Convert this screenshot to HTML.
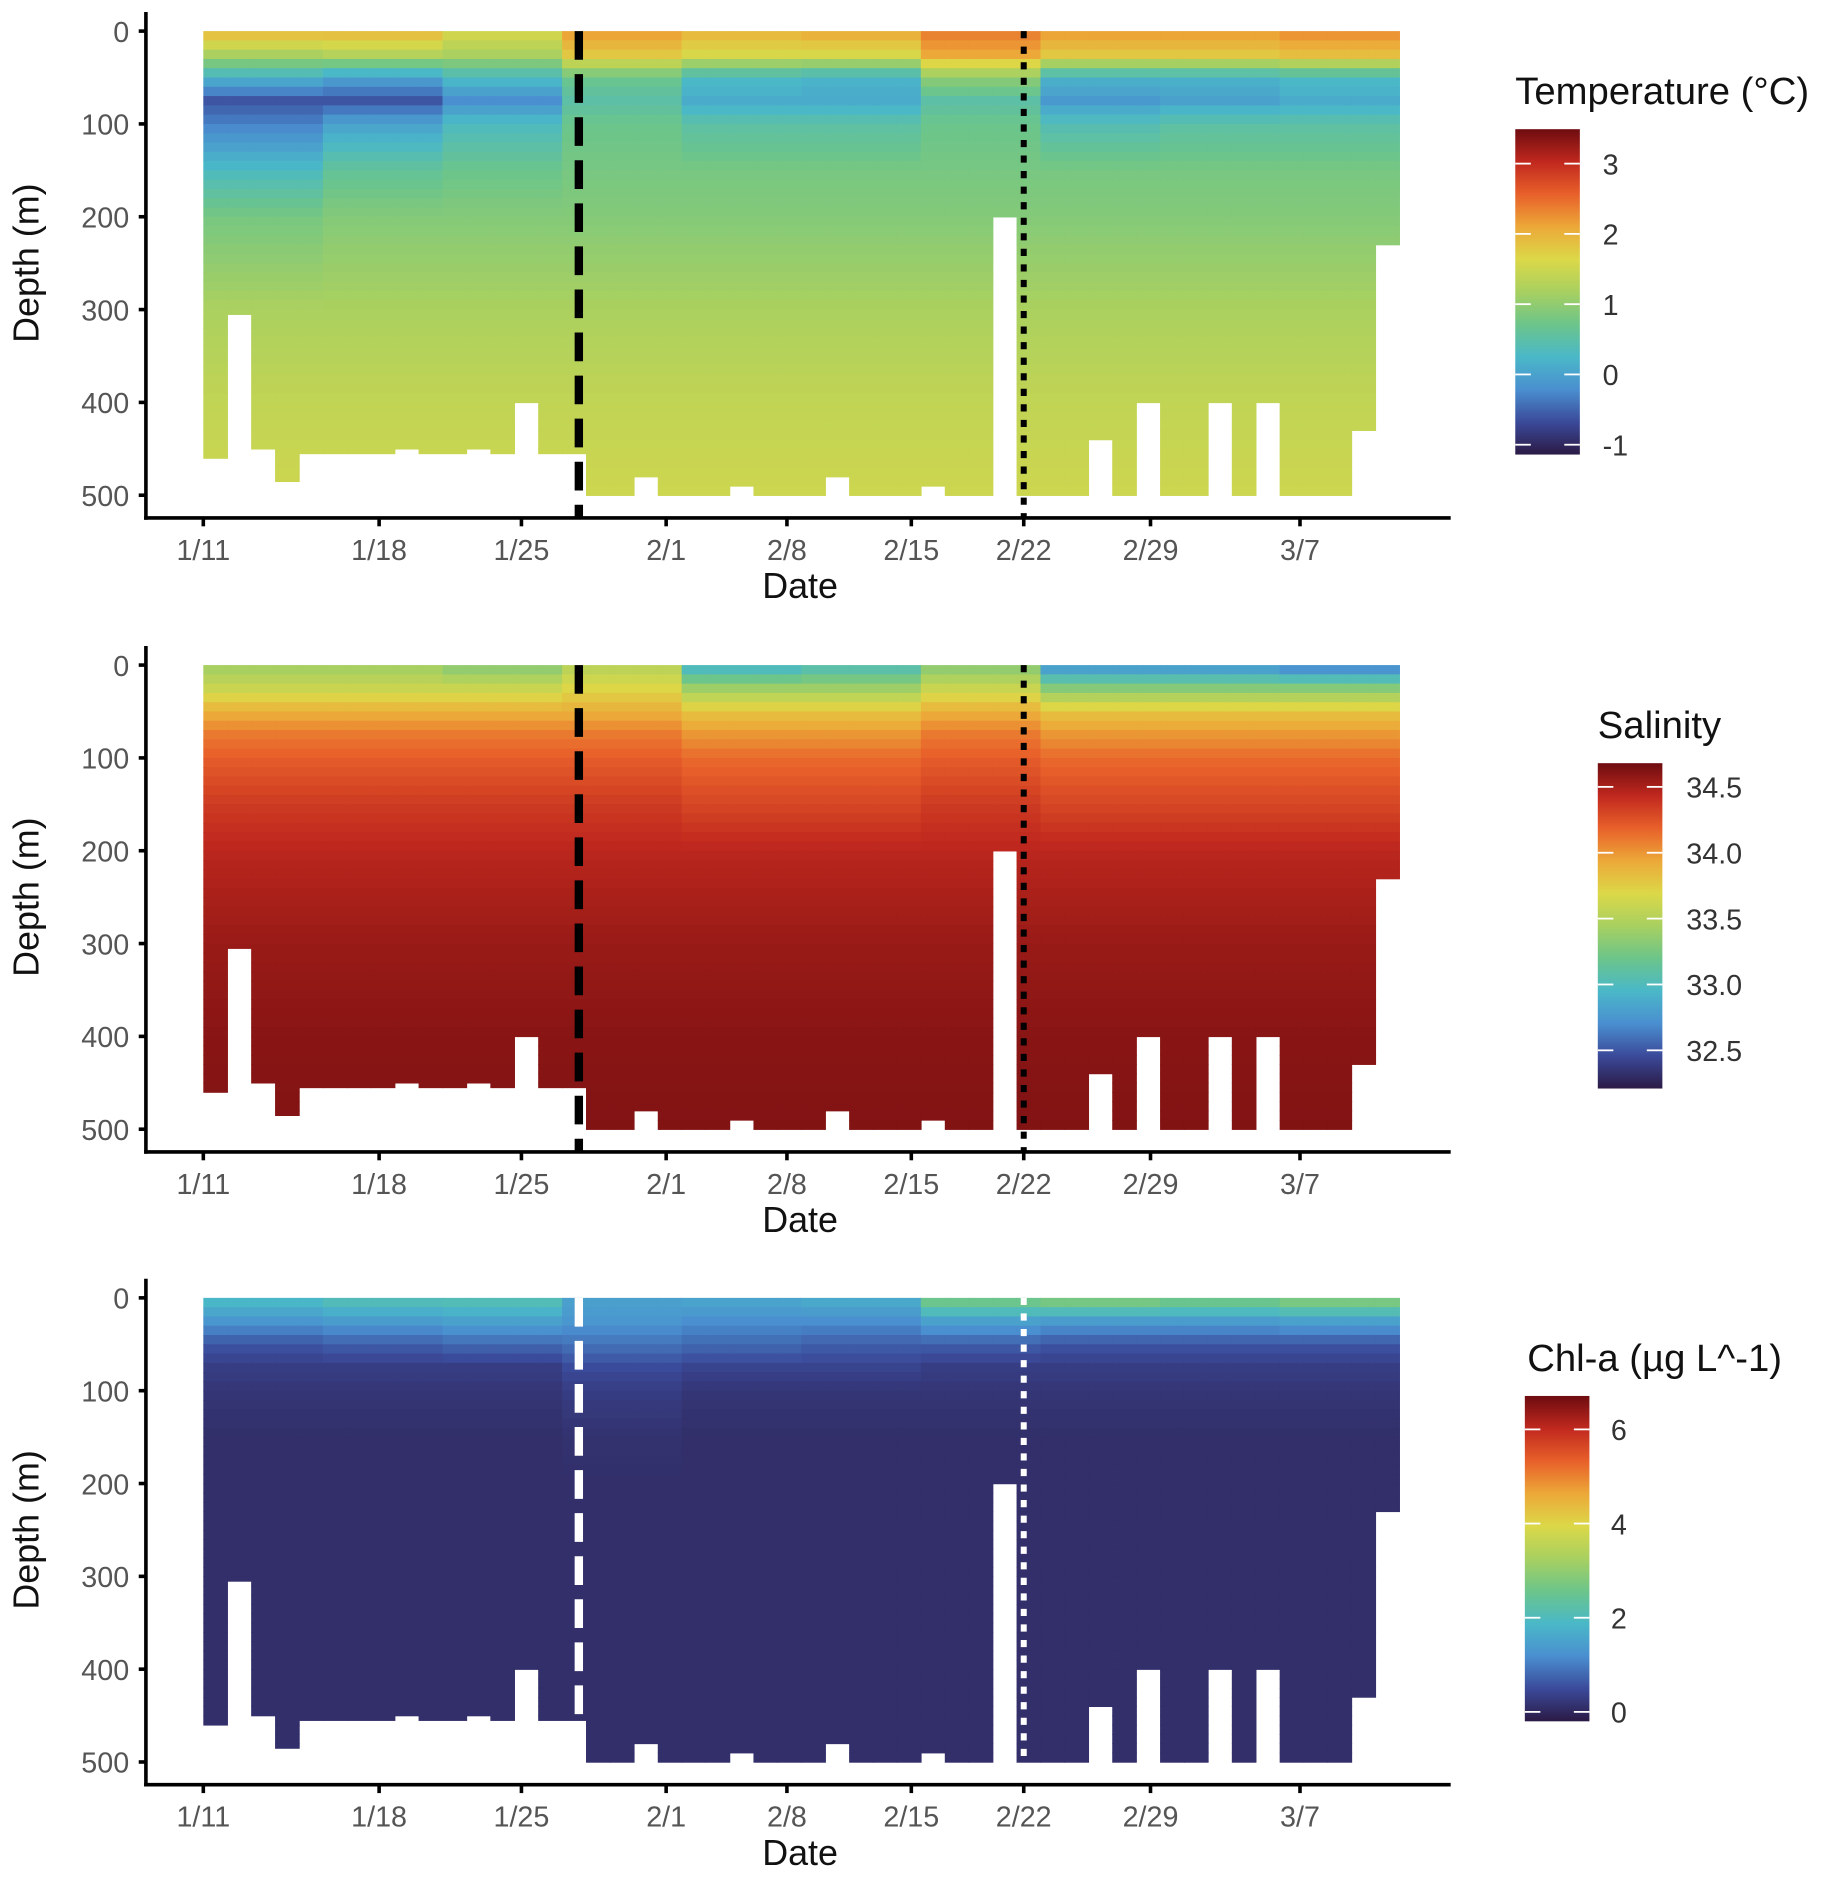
<!DOCTYPE html>
<html><head><meta charset="utf-8"><style>
html,body{margin:0;padding:0;background:#fff;}
svg{display:block;font-family:"Liberation Sans",sans-serif;}
.tk{fill:#555;font-size:24px;}
.tt{fill:#111;font-size:30px;}
.lt{fill:#111;font-size:32px;}
</style></head><body>
<svg id="chart" width="1831" height="1884" viewBox="0 0 1531 1575" preserveAspectRatio="none" xmlns="http://www.w3.org/2000/svg"></svg>
<script>
// ---- data ----
const depthTicks = [0,100,200,300,400,500];
const dateLabels = ["1/11","1/18","1/25","2/1","2/8","2/15","2/22","2/29","3/7"];
const dateTickPos = [0,7.35,13.3,19.35,24.4,29.6,34.3,39.6,45.85]; // profile-index units
const depthLevels = [0,25,50,75,100,150,200,300,400,500];
const bottomDepths = [460,305,450,485,455,455,455,455,450,455,455,450,455,400,455,455,500,500,480,500,500,500,490,500,500,500,480,500,500,500,490,500,500,200,500,500,500,440,500,400,500,500,400,500,400,500,500,500,430,230];
const tempSeg = [
[2.0,1.2,0.2,-0.6,-0.3,0.3,0.8,1.2,1.4,1.5],
[2.0,1.3,0.0,-0.6,0.0,0.6,0.9,1.2,1.4,1.5],
[1.6,1.2,0.3,-0.2,0.3,0.7,0.9,1.2,1.4,1.5],
[2.2,1.8,0.7,0.5,0.7,0.8,0.9,1.2,1.4,1.5],
[2.0,1.6,0.3,0.1,0.5,0.8,0.9,1.2,1.4,1.5],
[2.1,1.6,0.2,0.1,0.5,0.8,0.9,1.2,1.4,1.5],
[2.4,2.1,1.0,0.5,0.7,0.8,0.9,1.2,1.4,1.5],
[2.2,1.8,0.2,-0.1,0.4,0.8,0.9,1.2,1.4,1.5],
[2.2,1.8,0.2,0.0,0.5,0.8,0.9,1.2,1.4,1.5],
[2.3,1.9,0.3,0.1,0.5,0.8,0.9,1.2,1.4,1.5]];
const salSeg = [
[33.4,33.6,33.9,34.1,34.2,34.35,34.45,34.55,34.6,34.62],
[33.4,33.6,33.9,34.1,34.2,34.35,34.45,34.55,34.6,34.62],
[33.3,33.6,33.9,34.1,34.2,34.35,34.45,34.55,34.6,34.62],
[33.5,33.7,33.9,34.1,34.2,34.35,34.45,34.55,34.6,34.62],
[32.9,33.4,33.8,34.0,34.15,34.3,34.45,34.55,34.6,34.62],
[33.0,33.4,33.8,34.0,34.15,34.3,34.45,34.55,34.6,34.62],
[33.3,33.6,33.9,34.1,34.2,34.35,34.45,34.55,34.6,34.62],
[32.7,33.3,33.8,34.0,34.15,34.3,34.45,34.55,34.6,34.62],
[32.7,33.3,33.8,34.0,34.15,34.3,34.45,34.55,34.6,34.62],
[32.6,33.3,33.8,34.0,34.15,34.3,34.45,34.55,34.6,34.62]];
const chlSeg = [
[2.0,1.3,0.6,0.3,0.2,0.1,0.1,0.1,0.1,0.1],
[2.2,1.4,0.7,0.3,0.2,0.1,0.1,0.1,0.1,0.1],
[2.2,1.5,0.8,0.3,0.2,0.1,0.1,0.1,0.1,0.1],
[1.5,1.3,0.9,0.5,0.3,0.15,0.1,0.1,0.1,0.1],
[1.6,1.2,0.8,0.4,0.2,0.1,0.1,0.1,0.1,0.1],
[1.7,1.2,0.7,0.4,0.2,0.1,0.1,0.1,0.1,0.1],
[2.8,1.5,0.7,0.3,0.2,0.1,0.1,0.1,0.1,0.1],
[3.0,1.4,0.6,0.3,0.2,0.1,0.1,0.1,0.1,0.1],
[2.8,1.4,0.6,0.3,0.2,0.1,0.1,0.1,0.1,0.1],
[3.0,1.5,0.6,0.3,0.2,0.1,0.1,0.1,0.1,0.1]];
const eventDash = 15.7, eventDot = 34.3;
// ---- layout ----
const cmap = ["#2b1a45","#3b4a9a","#4a8fd0","#4ab8c8","#6cc58a","#a8d060","#dcd848","#eca838","#e8602a","#c0281e","#6e0c10"];
const panels = [
 {off:0, seg:tempSeg, min:-1.14, max:3.49, title:"Temperature (°C)", tx:1267, bx:1267, ticks:[3,2,1,0,-1], fmt:v=>String(v), lx:1340, line:"#000", name:"temperature"},
 {off:530, seg:salSeg, min:32.21, max:34.68, title:"Salinity", tx:1336, bx:1336, ticks:[34.5,34.0,33.5,33.0,32.5], fmt:v=>v.toFixed(1), lx:1410, line:"#000", name:"salinity"},
 {off:1059, seg:chlSeg, min:-0.2, max:6.71, title:"Chl-a (µg L^-1)", tx:1277, bx:1275, ticks:[6,4,2,0], fmt:v=>String(v), lx:1347, line:"#fff", name:"chlorophyll"}
];
const svg = document.getElementById('chart');
const NS = "http://www.w3.org/2000/svg";
function mk(tag, attrs, parent){const e=document.createElementNS(NS,tag);for(const k in attrs)e.setAttribute(k,attrs[k]);(parent||svg).appendChild(e);return e;}
const x0=170, colW=20;
const xScale = i => x0 + i*colW;
const yScale = (d,off) => 26 + off + d*(414-26)/500;
function hex(c){return [1,3,5].map(i=>parseInt(c.substr(i,2),16));}
function colorAt(t){t=Math.max(0,Math.min(1,t));const p=t*(cmap.length-1);const i=Math.min(Math.floor(p),cmap.length-2);const f=p-i;const a=hex(cmap[i]),b=hex(cmap[i+1]);return "rgb("+a.map((v,k)=>Math.round(v+(b[k]-v)*f)).join(",")+")";}
function valAt(seg,i,d){const s=seg[Math.min(seg.length-1,Math.floor(i/5))];let k=0;while(k<depthLevels.length-2&&d>depthLevels[k+1])k++;const f=(d-depthLevels[k])/(depthLevels[k+1]-depthLevels[k]);return s[k]+(s[k+1]-s[k])*Math.max(0,Math.min(1,f));}
panels.forEach((P,pi)=>{
 const g=mk('g',{});
 
 
 const hm=mk('g',{},g);
 
 
 for(let i=0;i<bottomDepths.length;i++){
  for(let d=0; d<bottomDepths[i]; d+=10){
   const dd=Math.min(10,bottomDepths[i]-d);
   const v=valAt(P.seg,i,d+5);
   const r=mk('rect',{x:xScale(i),y:yScale(d,P.off),width:colW+0.6,height:(yScale(d+dd,P.off)-yScale(d,P.off))+0.6,fill:colorAt((v-P.min)/(P.max-P.min))},hm);
   
   
  }
 }
 const yTop=yScale(0,P.off), yBot=yScale(500,P.off)+18;
 const dl=mk('line',{x1:xScale(eventDash),x2:xScale(eventDash),y1:yTop,y2:yBot,stroke:P.line,'stroke-width':7,'stroke-dasharray':'24,12'},g);
 
 
 const dt=mk('line',{x1:xScale(eventDot),x2:xScale(eventDot),y1:yTop,y2:yBot,stroke:P.line,'stroke-width':5,'stroke-dasharray':'6,7'},g);
 
 
 const axY=433+P.off;
 const ya=mk('line',{x1:122,x2:122,y1:10+P.off,y2:axY+1.5,stroke:'#000','stroke-width':3},g);
 
 
 const xa=mk('line',{x1:120.5,x2:1213,y1:axY,y2:axY,stroke:'#000','stroke-width':3},g);
 
 
 depthTicks.forEach(t=>{
  const y=yScale(t,P.off);
  mk('line',{x1:116,x2:122,y1:y,y2:y,stroke:'#000','stroke-width':3},g);
  const tx=mk('text',{x:108,y:y+9,'text-anchor':'end',class:'tk'},g);
  tx.textContent=t;
  
  
 });
 dateTickPos.forEach((p,k)=>{
  const x=xScale(p);
  mk('line',{x1:x,x2:x,y1:axY,y2:axY+7,stroke:'#000','stroke-width':3},g);
  const tx=mk('text',{x:x,y:axY+35,'text-anchor':'middle',class:'tk'},g);
  tx.textContent=dateLabels[k];
  
  
 });
 const xt=mk('text',{x:669,y:axY+67,'text-anchor':'middle',class:'tt'},g);
 xt.textContent='Date';
 
 
 const yt=mk('text',{x:0,y:0,'text-anchor':'middle',class:'tt',transform:'translate(32,'+(220+P.off)+') rotate(-90)'},g);
 yt.textContent='Depth (m)';
 
 
 const by0=108+P.off, by1=380+P.off, bw=54;
 const gid='grad'+pi;
 const defs=mk('defs',{},g);
 const lg=mk('linearGradient',{id:gid,x1:0,y1:1,x2:0,y2:0},defs);
 cmap.forEach((c,k)=>mk('stop',{offset:k/(cmap.length-1),'stop-color':c},lg));
 const lt=mk('text',{x:P.tx,y:by0-21,class:'lt'},g);
 lt.textContent=P.title;
 
 
 const bar=mk('rect',{x:P.bx,y:by0,width:bw,height:by1-by0,fill:'url(#'+gid+')'},g);
 
 
 P.ticks.forEach(v=>{
  const y=by1-(v-P.min)/(P.max-P.min)*(by1-by0);
  mk('line',{x1:P.bx,x2:P.bx+13,y1:y,y2:y,stroke:'#fff','stroke-width':1.5},g);
  mk('line',{x1:P.bx+bw-13,x2:P.bx+bw,y1:y,y2:y,stroke:'#fff','stroke-width':1.5},g);
  const t=mk('text',{x:P.lx,y:y+9,class:'tk',style:'fill:#333'},g);
  t.textContent=P.fmt(v);
  
  
 });
});
</script>
</body></html>
